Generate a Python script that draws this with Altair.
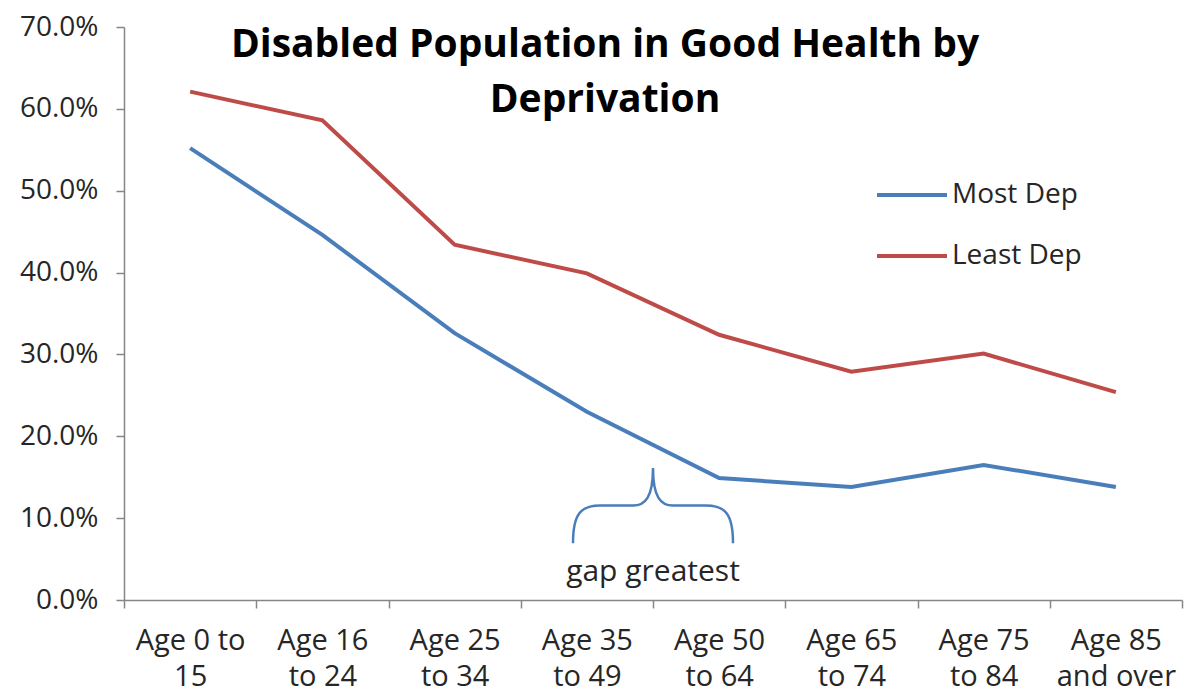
import altair as alt
import pandas as pd

categories = ["Age 0 to|15", "Age 16|to 24", "Age 25|to 34", "Age 35|to 49",
              "Age 50|to 64", "Age 65|to 74", "Age 75|to 84", "Age 85|and over"]
most_dep = [55.2, 44.6, 32.6, 23.0, 14.9, 13.8, 16.5, 13.8]
least_dep = [62.1, 58.6, 43.4, 39.9, 32.4, 27.9, 30.1, 25.4]
series = ["Most Dep", "Least Dep"]
colors = ["#4a7ebb", "#be4b48"]
y_ticks = [0.0, 0.1, 0.2, 0.3, 0.4, 0.5, 0.6, 0.7]

title_lines = ["Disabled Population in Good Health by", "Deprivation"]
note_text = "gap greatest"
note_category = "Age 50|to 64"
brace_value = 0.1154
note_value = 0.034

FONT = "Open Sans"
TEXT = "#262626"

rows = []
for name, vals in zip(series, [most_dep, least_dep]):
    for c, v in zip(categories, vals):
        rows.append({"age": c, "value": v / 100.0, "series": name})
df = pd.DataFrame(rows)

xscale = alt.Scale(type="band", domain=categories, paddingInner=0, paddingOuter=0)
yscale = alt.Scale(domain=[0, 0.7], nice=False, zero=True)

lines = alt.Chart(df).mark_line(strokeWidth=4).encode(
    x=alt.X("age:N", sort=categories, scale=xscale, bandPosition=0.5,
            axis=alt.Axis(title=None, labelExpr="split(datum.label, '|')",
                          tickBand="extent", tickExtra=True, labelAngle=0,
                          labelFont=FONT, labelFontSize=29, labelColor=TEXT,
                          labelLineHeight=36, labelPadding=18, tickSize=8,
                          domainColor="#868686", tickColor="#868686",
                          domainWidth=1.5, tickWidth=1.5, grid=False)),
    y=alt.Y("value:Q", scale=yscale,
            axis=alt.Axis(title=None, format=".1%", values=y_ticks,
                          labelFont=FONT, labelFontSize=28, labelColor=TEXT,
                          labelPadding=18, tickSize=8,
                          domainColor="#868686", tickColor="#868686",
                          domainWidth=1.5, tickWidth=1.5, grid=False)),
    color=alt.Color("series:N", scale=alt.Scale(domain=series, range=colors),
                    legend=alt.Legend(title=None, orient="none", legendX=751,
                                      legendY=131, symbolType="stroke",
                                      symbolSize=4900, symbolStrokeWidth=4,
                                      labelFont=FONT, labelFontSize=28,
                                      labelColor=TEXT, labelOffset=3,
                                      rowPadding=10)),
    detail="series:N",
)

note_df = pd.DataFrame({"age": [note_category], "brace": [brace_value],
                        "note": [note_value], "text": [note_text]})

brace_path = ("M -1 0.47 C -1 0.1 -0.9 0 -0.66 0 L -0.25 0 C -0.1 0 0 -0.1 0 -0.47 "
              "C 0 -0.1 0.1 0 0.25 0 L 0.66 0 C 0.9 0 1 0.1 1 0.47")

brace = alt.Chart(note_df).mark_point(shape=brace_path, size=25600, filled=False,
                                      stroke=colors[0], strokeWidth=2.5, opacity=1).encode(
    x=alt.X("age:N", sort=categories, scale=xscale, bandPosition=0),
    y=alt.Y("brace:Q", scale=yscale),
)

note = alt.Chart(note_df).mark_text(font=FONT, fontSize=30, color=TEXT,
                                    baseline="middle", align="center").encode(
    x=alt.X("age:N", sort=categories, scale=xscale, bandPosition=0),
    y=alt.Y("note:Q", scale=yscale),
    text="text:N",
)

title = alt.Chart(note_df).mark_text(text=title_lines, font=FONT, fontSize=39,
                                     fontWeight="bold", color="#000000",
                                     align="center", baseline="middle",
                                     lineHeight=55).encode(
    x=alt.value(481), y=alt.value(18),
)

chart = alt.layer(lines, brace, note, title).properties(
    width=1058, height=573,
    autosize=alt.AutoSizeParams(type="none"),
    padding={"left": 124, "top": 27, "right": 3, "bottom": 97},
    background="white",
).configure_view(stroke=None)

chart.save("out.html", embed_options={"renderer": "svg", "actions": False})
